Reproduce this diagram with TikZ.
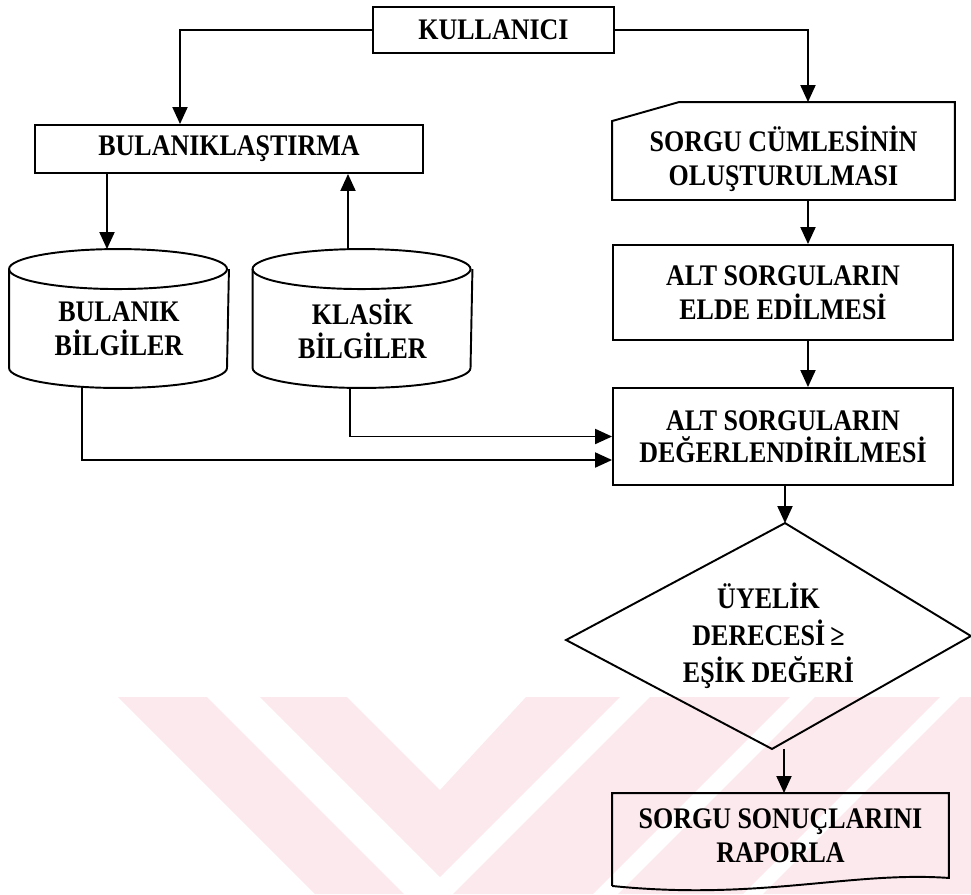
\documentclass[tikz,border=0pt]{standalone}
\usepackage{fontspec}
\setmainfont{Liberation Serif}[FakeStretch=0.87]
\usetikzlibrary{arrows.meta, shapes.geometric, calc}

\definecolor{wmpink}{RGB}{252,233,237}

\begin{document}
\begin{tikzpicture}[
    x=0.02cm, y=0.02cm,
    line width=1.1pt,
    every node/.style={font=\fontsize{17}{19.3}\selectfont\bfseries, align=center, inner sep=0pt},
    pbox/.style={draw, rectangle},
    bare/.style={draw=none, rectangle},
    arr/.style={-{Triangle[length=0.34cm, width=0.3cm]}},
]
\useasboundingbox (0,0) rectangle (971,-894);

% faint background marks
\fill[wmpink] (118,-697) -- (207,-697) -- (404,-894) -- (315,-894) -- cycle;
\fill[wmpink] (260,-697) -- (347,-697) -- (440,-790) -- (526,-697) -- (620,-697) -- (440,-877) -- cycle;
\fill[wmpink] (650,-697) -- (790,-697) -- (593,-894) -- (453,-894) -- cycle;
\fill[wmpink] (815,-697) -- (940,-697) -- (743,-894) -- (618,-894) -- cycle;
\fill[wmpink] (960,-697) -- (971,-697) -- (971,-894) -- (763,-894) -- cycle;

% === top ===
\node[pbox, minimum width=4.82cm, minimum height=0.92cm] (user) at (493.5,-30) {KULLANICI};
\node[pbox, minimum width=7.76cm, minimum height=0.96cm] (fuzz) at (229,-149) {BULANIKLAŞTIRMA};

% === data stores ===
\node[bare, minimum width=4.36cm, minimum height=1.54cm] (fdb) at (119,-328.5) {BULANIK\\BİLGİLER};
\node[bare, minimum width=4.36cm, minimum height=1.54cm] (cdb) at (362.5,-328.5) {KLASİK\\BİLGİLER};
\foreach \db in {fdb,cdb} {
    \draw ([yshift=0.4cm]\db.north west) arc[start angle=180, end angle=540, x radius=2.18cm, y radius=0.4cm];
    \draw ([yshift=0.4cm]\db.north west) -- (\db.south west)
        arc[start angle=180, end angle=360, x radius=2.18cm, y radius=0.4cm] -- ([yshift=0.4cm]\db.north east);
}

% === right column ===
\node[bare, minimum width=6.82cm, minimum height=1.6cm] (qry) at (783.5,-159) {SORGU CÜMLESİNİN\\OLUŞTURULMASI};
\coordinate (qry-top) at ([xshift=0.49cm, yshift=0.32cm]qry.north);
\draw ([yshift=-0.06cm]qry.north west) -- ([xshift=1.34cm, yshift=0.32cm]qry.north west) -- ([yshift=0.32cm]qry.north east)
    -- (qry.south east) -- (qry.south west) -- cycle;
\node[pbox, minimum width=6.8cm, minimum height=1.9cm] (elde) at (783,-292.5) {ALT SORGULARIN\\ELDE EDİLMESİ};
\node[pbox, minimum width=6.8cm, minimum height=1.94cm] (deger) at (783,-436.5) {ALT SORGULARIN\\[-1pt]DEĞERLENDİRİLMESİ};

% decision
\node[shape=diamond, draw=none, aspect=1.78, minimum width=8.06cm, minimum height=4.54cm,
      font=\fontsize{17}{21}\selectfont\bfseries] (dia) at (768.5,-636)
    {ÜYELİK\\DERECESİ\,≥\\EŞİK DEĞERİ};
\coordinate (dia-top) at ([xshift=0.33cm, yshift=-0.03cm]dia.north);
\coordinate (dia-bot) at ([xshift=0.07cm, yshift=0.03cm]dia.south);
\draw (dia-top) -- ([yshift=0.0cm]dia.east) -- (dia-bot) -- ([yshift=-0.08cm]dia.west) -- cycle;

% report
\node[bare, minimum width=6.7cm, minimum height=1.66cm] (rep) at (780.5,-835.5) {SORGU SONUÇLARINI\\RAPORLA};
\draw ([yshift=-0.16cm]rep.south west) -- (rep.north west) -- (rep.north east) -- (rep.south east)
    .. controls ([xshift=-1.96cm, yshift=0.14cm]rep.south east) and ([xshift=2.94cm, yshift=-0.46cm]rep.south west)
    .. ([yshift=-0.16cm]rep.south west);

% === connectors ===
\draw[arr] (user.west) -| ([xshift=-0.98cm]fuzz.north);
\draw[arr] (user.east) -| (qry-top);
\draw[arr] ([xshift=-0.24cm]fdb.north |- fuzz.south) -- ([xshift=-0.24cm, yshift=0.8cm]fdb.north);
\draw[arr] ([xshift=-0.29cm, yshift=0.8cm]cdb.north) -- ([xshift=-0.29cm]cdb.north |- fuzz.south);
\draw[arr] ([xshift=-0.74cm, yshift=-0.38cm]fdb.south) |- ([yshift=-0.47cm]deger.west);
\draw[arr] ([xshift=-0.25cm, yshift=-0.4cm]cdb.south) |- (deger.west);
\draw[arr] ([xshift=0.49cm]qry.south) -- ([xshift=0.49cm]qry.south |- elde.north);
\draw[arr] ([xshift=0.5cm]elde.south) -- ([xshift=0.5cm]deger.north);
\draw[arr] (deger.south -| dia-top) -- (dia-top);
\draw[arr] ([xshift=0.07cm]rep.north |- dia-bot) -- ([xshift=0.07cm]rep.north);
\end{tikzpicture}
\end{document}
